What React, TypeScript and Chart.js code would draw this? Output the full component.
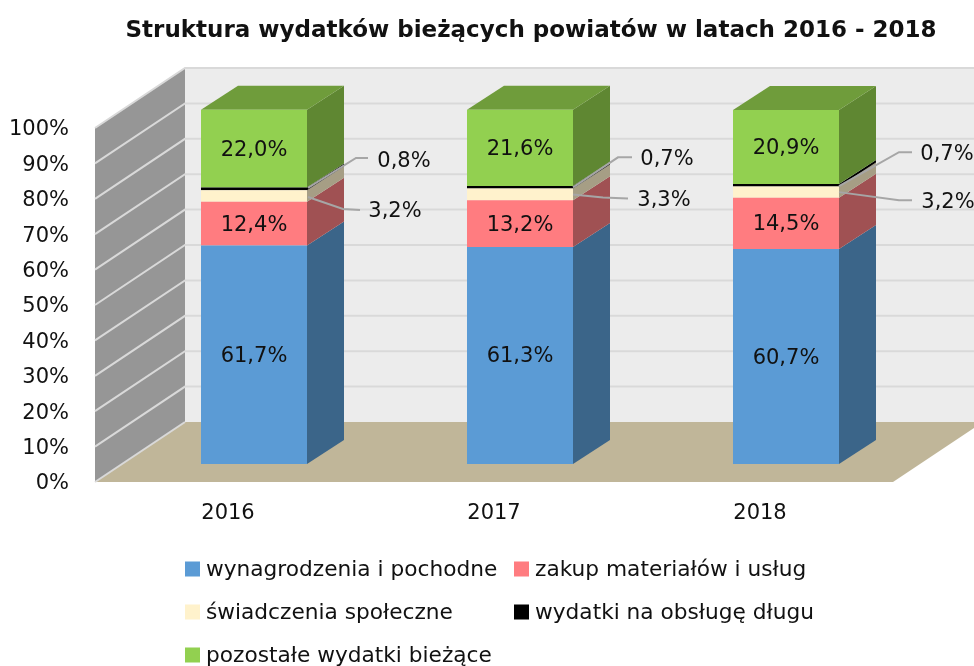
import React, { useEffect, useRef } from "react";
import { Chart, registerables } from "chart.js";

Chart.register(...registerables);

const years = ["2016", "2017", "2018"];
const wynagrodzenia = [61.7, 61.3, 60.7];
const zakup = [12.4, 13.2, 14.5];
const swiadczenia = [3.2, 3.3, 3.2];
const obsluga = [0.8, 0.7, 0.7];
const pozostale = [22.0, 21.6, 20.9];
const yTicks = [0, 10, 20, 30, 40, 50, 60, 70, 80, 90, 100];
const titleText = "Struktura wydatków bieżących powiatów w latach 2016 - 2018";

const FONT = "'DejaVu Sans'";
const TEXT = "#111111";
const SIDE_COLORS = ["#3B6589", "#A05153", "#A69E85", "#000000", "#5F8732"];
const TOP_COLOR = "#6F9C3B";
const BAR_DEPTH = { x: 37, y: -24 };
const FRONT = { x: -26, y: 18 };
const BACK = { x: 64, y: -42 };

// leader-line geometry relative to (bar right edge, segment middle)
const LEADERS: Record<number, number[][][]> = {
  3: [
    [[1, -1], [49, -31], [61, -31], [97, -27.5]],
    [[0, 0], [45, -30], [59, -30], [94, -28]],
    [[0, 1], [60, -33], [73, -33], [108, -31]],
  ],
  2: [
    [[1, 1], [36, 13], [53, 14], [88, 16]],
    [[0, 0], [30, 3], [55, 4], [91, 6]],
    [[0, 0], [60, 8], [73, 8], [109, 10]],
  ],
};

const LEGEND_COLS = [185, 514];
const LEGEND_ROWS = [569, 612, 655];
const LEGEND_SLOTS = [[0, 0], [1, 0], [0, 1], [1, 1], [0, 2]];

function poly(ctx: CanvasRenderingContext2D, pts: number[][], fill: string) {
  ctx.beginPath();
  pts.forEach((p, i) => (i ? ctx.lineTo(p[0], p[1]) : ctx.moveTo(p[0], p[1])));
  ctx.closePath();
  ctx.fillStyle = fill;
  ctx.fill();
}

const scene3d = {
  id: "scene3d",
  afterLayout(chart: any) {
    if (chart.titleBlock) {
      chart.titleBlock.left = 88;
      chart.titleBlock.right = 974;
    }
  },
  beforeDatasetsDraw(chart: any) {
    const { ctx, chartArea: a, scales } = chart;
    const y = scales.y;
    const fl = a.left + FRONT.x;
    const fr = a.right + FRONT.x;
    const p0 = y.getPixelForValue(0) + FRONT.y;
    const p100 = y.getPixelForValue(100) + FRONT.y;
    const dx = BACK.x + 26;
    const dy = BACK.y - 18;
    ctx.save();
    // back wall
    poly(ctx, [[fl + dx, p100 + dy], [fr + dx, p100 + dy], [fr + dx, p0 + dy], [fl + dx, p0 + dy]], "#ECECEC");
    // side wall
    poly(ctx, [[fl, p100], [fl + dx, p100 + dy], [fl + dx, p0 + dy], [fl, p0]], "#969696");
    // floor
    poly(ctx, [[fl, p0], [fl + dx, p0 + dy], [fr + dx, p0 + dy], [fr, p0]], "#C0B699");
    // grid lines
    ctx.strokeStyle = "#D9D9D9";
    ctx.lineWidth = 2;
    yTicks.forEach((t) => {
      const py = y.getPixelForValue(t) + FRONT.y;
      ctx.beginPath();
      ctx.moveTo(fl, py);
      ctx.lineTo(fl + dx, py + dy);
      if (t > 0) ctx.lineTo(fr + dx, py + dy);
      ctx.stroke();
    });
    // 3D faces of the bars
    chart.data.datasets.forEach((_: any, di: number) => {
      chart.getDatasetMeta(di).data.forEach((bar: any) => {
        const { x, y: top, base, width } = bar.getProps(["x", "y", "base", "width"], true);
        const r = x + width / 2;
        const l = x - width / 2;
        poly(ctx, [[r, top], [r + BAR_DEPTH.x, top + BAR_DEPTH.y], [r + BAR_DEPTH.x, base + BAR_DEPTH.y], [r, base]], SIDE_COLORS[di]);
        if (di === chart.data.datasets.length - 1) {
          poly(ctx, [[l, top], [l + BAR_DEPTH.x, top + BAR_DEPTH.y], [r + BAR_DEPTH.x, top + BAR_DEPTH.y], [r, top]], TOP_COLOR);
        }
      });
    });
    ctx.restore();
  },
  afterDatasetsDraw(chart: any) {
    const { ctx } = chart;
    ctx.save();
    ctx.font = `21px ${FONT}`;
    ctx.textBaseline = "middle";
    ctx.textAlign = "center";
    chart.data.datasets.forEach((ds: any, di: number) => {
      chart.getDatasetMeta(di).data.forEach((bar: any, i: number) => {
        const { x, y: top, base, width } = bar.getProps(["x", "y", "base", "width"], true);
        const cy = (top + base) / 2;
        const label = ds.data[i].toFixed(1).replace(".", ",") + "%";
        const leader = LEADERS[di];
        ctx.fillStyle = TEXT;
        if (leader) {
          const pts = leader[i];
          const r = x + width / 2;
          ctx.strokeStyle = "#A6A6A6";
          ctx.lineWidth = 2;
          ctx.beginPath();
          pts.slice(0, 3).forEach((p, k) => (k ? ctx.lineTo(r + p[0], cy + p[1]) : ctx.moveTo(r + p[0], cy + p[1])));
          ctx.stroke();
          ctx.fillText(label, r + pts[3][0], cy + pts[3][1]);
        } else {
          ctx.fillText(label, x, cy + 1.5);
        }
      });
    });
    // legend
    ctx.textAlign = "left";
    ctx.font = `21.7px ${FONT}`;
    chart.data.datasets.forEach((ds: any, di: number) => {
      const [c, r] = LEGEND_SLOTS[di];
      const lx = LEGEND_COLS[c];
      const ly = LEGEND_ROWS[r];
      ctx.fillStyle = ds.backgroundColor;
      ctx.fillRect(lx, ly - 7.5, 15, 15);
      ctx.fillStyle = TEXT;
      ctx.fillText(ds.label, lx + 21, ly + 1);
    });
    ctx.restore();
  },
};

export default function App() {
  const ref = useRef<HTMLCanvasElement>(null);
  useEffect(() => {
    const chart = new Chart(ref.current!, {
      type: "bar",
      data: {
        labels: years,
        datasets: [
          { label: "wynagrodzenia i pochodne", data: wynagrodzenia, backgroundColor: "#5B9BD5" },
          { label: "zakup materiałów i usług", data: zakup, backgroundColor: "#FF7C80" },
          { label: "świadczenia społeczne", data: swiadczenia, backgroundColor: "#FFF2CC" },
          { label: "wydatki na obsługę długu", data: obsluga, backgroundColor: "#000000" },
          { label: "pozostałe wydatki bieżące", data: pozostale, backgroundColor: "#92D050" },
        ].map((d) => ({ ...d, categoryPercentage: 1, barPercentage: 0.3985, borderWidth: 0, clip: false as any })),
      },
      options: {
        responsive: false,
        animation: false,
        layout: { padding: { left: 0, right: 55, top: 0, bottom: 0 } },
        plugins: {
          legend: { display: false },
          tooltip: { enabled: false },
          title: {
            display: true,
            text: titleText,
            color: TEXT,
            font: { family: FONT, size: 23, weight: "bold", lineHeight: 1.2 },
            padding: { top: 17, bottom: 65.4 },
          },
        },
        scales: {
          x: {
            stacked: true,
            grid: { display: false, drawTicks: false },
            border: { display: false },
            afterFit: (s: any) => { s.height = 202; },
            ticks: { color: TEXT, font: { family: FONT, size: 21 }, labelOffset: -26, padding: 37, maxRotation: 0 },
          },
          y: {
            stacked: true,
            min: 0,
            max: 100,
            grid: { display: false, drawTicks: false },
            border: { display: false },
            afterFit: (s: any) => { s.width = 121; },
            ticks: {
              stepSize: 10,
              autoSkip: false,
              color: TEXT,
              font: { family: FONT, size: 21 },
              labelOffset: 20,
              padding: 52,
              callback: (v: any) => `${v}%`,
            },
          },
        },
      },
      plugins: [scene3d],
    } as any);
    return () => chart.destroy();
  }, []);
  return (
    <canvas
      ref={ref}
      width={974}
      height={666}
      style={{ position: "absolute", left: 0, top: 0, width: 974, height: 666, display: "block" }}
    />
  );
}
